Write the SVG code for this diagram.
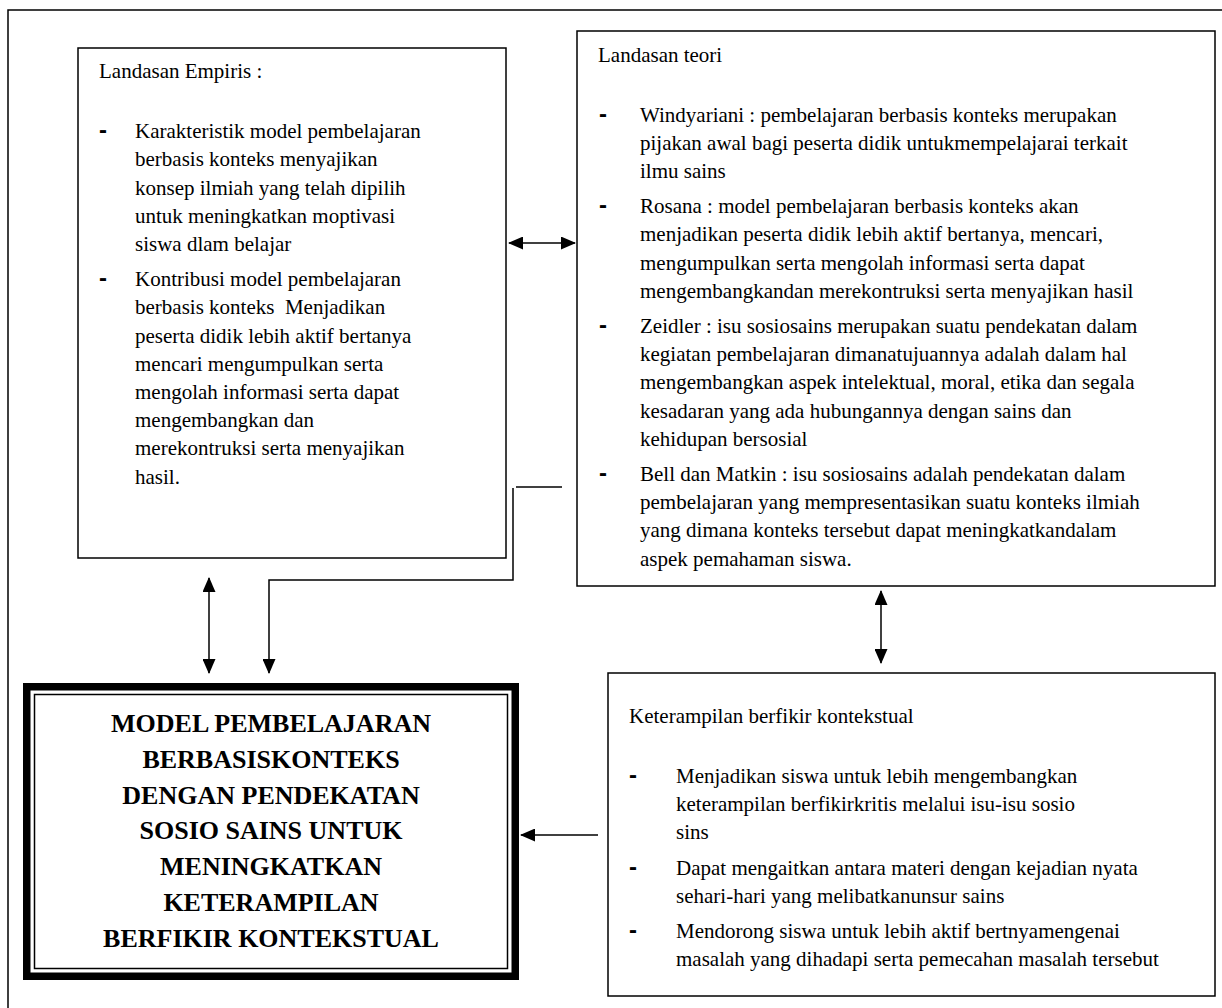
<svg xmlns="http://www.w3.org/2000/svg" width="1222" height="1008" viewBox="0 0 1222 1008">
<defs>
<style>
.t{font-family:"Liberation Serif","Times New Roman",serif;font-size:21px;fill:#000}
.b{font-family:"Liberation Sans",Arial,sans-serif;font-size:24px;font-weight:bold;fill:#000}
.h{font-family:"Liberation Serif","Times New Roman",serif;font-size:26px;font-weight:bold;fill:#000;text-anchor:middle}
.box{fill:#fff;stroke:#000;stroke-width:1.5}
.ln{fill:none;stroke:#000;stroke-width:1.5}
</style>
<marker id="ah" viewBox="0 0 15 13" refX="14" refY="6.5" markerWidth="15" markerHeight="13" markerUnits="userSpaceOnUse" orient="auto-start-reverse">
<path d="M0,0 L15,6.5 L0,13 z" fill="#000"/>
</marker>
</defs>
<rect width="1222" height="1008" fill="#fff"/>
<path class="ln" d="M8,1010 V10 H1224"/>

<g id="landasan-empiris">
<rect class="box" x="78" y="48" width="428" height="510"/>
<text class="t" x="99" y="78">Landasan Empiris :</text>
<text class="b" x="99" y="138">-</text>
<text class="t" x="135" y="138">Karakteristik model pembelajaran</text>
<text class="t" x="135" y="166.4">berbasis konteks menyajikan</text>
<text class="t" x="135" y="194.6">konsep ilmiah yang telah dipilih</text>
<text class="t" x="135" y="222.8">untuk meningkatkan moptivasi</text>
<text class="t" x="135" y="251">siswa dlam belajar</text>
<text class="b" x="99" y="286.2">-</text>
<text class="t" x="135" y="286.2">Kontribusi model pembelajaran</text>
<text class="t" x="135" y="314.4" xml:space="preserve">berbasis konteks  Menjadikan</text>
<text class="t" x="135" y="342.6">peserta didik lebih aktif bertanya</text>
<text class="t" x="135" y="370.8">mencari mengumpulkan serta</text>
<text class="t" x="135" y="399">mengolah informasi serta dapat</text>
<text class="t" x="135" y="427.2">mengembangkan dan</text>
<text class="t" x="135" y="455.4">merekontruksi serta menyajikan</text>
<text class="t" x="135" y="483.6">hasil.</text>
</g>

<g id="landasan-teori">
<rect class="box" x="577" y="31" width="638" height="555"/>
<text class="t" x="598" y="62">Landasan teori</text>
<text class="b" x="599" y="121.6">-</text>
<text class="t" x="640" y="121.6">Windyariani : pembelajaran berbasis konteks merupakan</text>
<text class="t" x="640" y="149.8">pijakan awal bagi peserta didik untukmempelajarai terkait</text>
<text class="t" x="640" y="178">ilmu sains</text>
<text class="b" x="599" y="213.2">-</text>
<text class="t" x="640" y="213.2">Rosana : model pembelajaran berbasis konteks akan</text>
<text class="t" x="640" y="241.4">menjadikan peserta didik lebih aktif bertanya, mencari,</text>
<text class="t" x="640" y="269.6">mengumpulkan serta mengolah informasi serta dapat</text>
<text class="t" x="640" y="297.8">mengembangkandan merekontruksi serta menyajikan hasil</text>
<text class="b" x="599" y="333">-</text>
<text class="t" x="640" y="333">Zeidler : isu sosiosains merupakan suatu pendekatan dalam</text>
<text class="t" x="640" y="361.2">kegiatan pembelajaran dimanatujuannya adalah dalam hal</text>
<text class="t" x="640" y="389.4">mengembangkan aspek intelektual, moral, etika dan segala</text>
<text class="t" x="640" y="417.6">kesadaran yang ada hubungannya dengan sains dan</text>
<text class="t" x="640" y="445.8">kehidupan bersosial</text>
<text class="b" x="599" y="481">-</text>
<text class="t" x="640" y="481">Bell dan Matkin : isu sosiosains adalah pendekatan dalam</text>
<text class="t" x="640" y="509.2">pembelajaran yang mempresentasikan suatu konteks ilmiah</text>
<text class="t" x="640" y="537.4">yang dimana konteks tersebut dapat meningkatkandalam</text>
<text class="t" x="640" y="565.6">aspek pemahaman siswa.</text>
</g>

<g id="model">
<rect x="26.75" y="686.75" width="488.5" height="289.5" fill="#fff" stroke="#000" stroke-width="7.5"/>
<rect x="34.5" y="694.5" width="473" height="274" fill="none" stroke="#000" stroke-width="1.5"/>
<text class="h" x="271" y="732">MODEL PEMBELAJARAN</text>
<text class="h" x="271" y="767.8">BERBASISKONTEKS</text>
<text class="h" x="271" y="803.6">DENGAN PENDEKATAN</text>
<text class="h" x="271" y="839.4">SOSIO SAINS UNTUK</text>
<text class="h" x="271" y="875.2">MENINGKATKAN</text>
<text class="h" x="271" y="911">KETERAMPILAN</text>
<text class="h" x="271" y="946.8">BERFIKIR KONTEKSTUAL</text>
</g>

<g id="keterampilan">
<rect class="box" x="608" y="673" width="607" height="323"/>
<text class="t" x="629" y="723">Keterampilan berfikir kontekstual</text>
<text class="b" x="629" y="783">-</text>
<text class="t" x="676" y="783">Menjadikan siswa untuk lebih mengembangkan</text>
<text class="t" x="676" y="811.2">keterampilan berfikirkritis melalui isu-isu sosio</text>
<text class="t" x="676" y="839.4">sins</text>
<text class="b" x="629" y="874.6">-</text>
<text class="t" x="676" y="874.6">Dapat mengaitkan antara materi dengan kejadian nyata</text>
<text class="t" x="676" y="902.8">sehari-hari yang melibatkanunsur sains</text>
<text class="b" x="629" y="938">-</text>
<text class="t" x="676" y="938">Mendorong siswa untuk lebih aktif bertnyamengenai</text>
<text class="t" x="676" y="966.2">masalah yang dihadapi serta pemecahan masalah tersebut</text>
</g>

<g id="connectors">
<line class="ln" x1="509" y1="243" x2="575" y2="243" marker-start="url(#ah)" marker-end="url(#ah)"/>
<line class="ln" x1="562" y1="487" x2="516" y2="487"/>
<path class="ln" d="M513,488 V580 H269 V673" marker-end="url(#ah)"/>
<line class="ln" x1="209" y1="578" x2="209" y2="673" marker-start="url(#ah)" marker-end="url(#ah)"/>
<line class="ln" x1="881" y1="591" x2="881" y2="663" marker-start="url(#ah)" marker-end="url(#ah)"/>
<line class="ln" x1="598" y1="835" x2="521" y2="835" marker-end="url(#ah)"/>
</g>
</svg>
